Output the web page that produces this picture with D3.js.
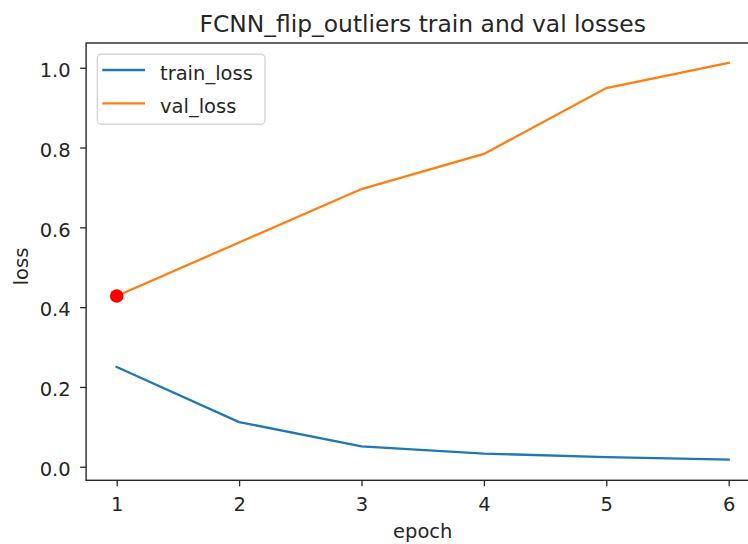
<!DOCTYPE html>
<html>
<head>
<meta charset="utf-8">
<script src="https://cdn.jsdelivr.net/npm/d3@7"></script>
<style>
  body { margin: 0; background: #fff; }
  svg text { font-family: "DejaVu Sans", sans-serif; fill: #262626; }
</style>
</head>
<body>
<svg id="chart"></svg>
<script>
var width = 748;
var height = 544;

// data
var epochs = [1, 2, 3, 4, 5, 6];
var trainLoss = [0.250, 0.112, 0.051, 0.033, 0.024, 0.018];
var valLoss = [0.428, 0.562, 0.696, 0.784, 0.949, 1.012];
var yTicks = [0.0, 0.2, 0.4, 0.6, 0.8, 1.0];
var seriesNames = ["train_loss", "val_loss"];
var colors = ["#1f77b4", "#ff7f0e"];

var plotLeft = 86.1, plotRight = 759.3, plotTop = 43, plotBottom = 480.3;
var fs = 19.5;

var svg = d3.select("#chart")
    .attr("width", width)
    .attr("height", height);

var x = d3.scaleLinear().domain([0.75, 6.25]).range([plotLeft, plotRight]);
var y = d3.scaleLinear().domain([-0.034, 1.062]).range([plotBottom, plotTop]);

// axes
var xAxis = svg.append("g")
    .attr("transform", "translate(0," + plotBottom + ")")
    .call(d3.axisBottom(x).tickValues(epochs).tickFormat(d3.format("d"))
        .tickSize(6).tickPadding(11).tickSizeOuter(0));
var yAxis = svg.append("g")
    .attr("transform", "translate(" + plotLeft + ",0)")
    .call(d3.axisLeft(y).tickValues(yTicks).tickFormat(d3.format(".1f"))
        .tickSize(6).tickPadding(9.4).tickSizeOuter(0));

[xAxis, yAxis].forEach(function (g) {
    g.select(".domain").remove();
    g.selectAll("line").attr("stroke", "#262626").attr("stroke-width", 1.3);
    g.selectAll("text").style("font-size", fs + "px").attr("fill", "#262626")
        .style("font-family", "DejaVu Sans");
});
yAxis.selectAll("text").attr("dy", "0.45em");

// spines
svg.append("rect")
    .attr("x", plotLeft).attr("y", plotTop)
    .attr("width", plotRight - plotLeft).attr("height", plotBottom - plotTop)
    .attr("fill", "none").attr("stroke", "#262626").attr("stroke-width", 1.4);

// lines
var line = d3.line()
    .x(function (d, i) { return x(epochs[i]); })
    .y(function (d) { return y(d); });

[trainLoss, valLoss].forEach(function (s, i) {
    svg.append("path")
        .datum(s)
        .attr("d", line)
        .attr("fill", "none")
        .attr("stroke", colors[i])
        .attr("stroke-width", 2.3)
        .attr("stroke-linecap", "square");
});

svg.append("circle")
    .attr("cx", x(epochs[0]))
    .attr("cy", y(valLoss[0]))
    .attr("r", 6.8)
    .attr("fill", "red");

// title and labels
svg.append("text")
    .attr("x", (plotLeft + plotRight) / 2).attr("y", 31.7)
    .attr("text-anchor", "middle")
    .style("font-size", "23.4px")
    .text("FCNN_flip_outliers train and val losses");

svg.append("text")
    .attr("x", (plotLeft + plotRight) / 2).attr("y", 538)
    .attr("text-anchor", "middle")
    .style("font-size", fs + "px")
    .text("epoch");

svg.append("text")
    .attr("transform", "translate(28,266.5) rotate(-90)")
    .attr("text-anchor", "middle")
    .style("font-size", fs + "px")
    .text("loss");

// legend
var legend = svg.append("g");
legend.append("rect")
    .attr("x", 97.3).attr("y", 54.3)
    .attr("width", 167.7).attr("height", 70)
    .attr("rx", 4)
    .attr("fill", "#fff").attr("fill-opacity", 0.8)
    .attr("stroke", "#d6d6d6").attr("stroke-width", 1.4);

seriesNames.forEach(function (name, i) {
    var ly = 70 + i * 33.3;
    legend.append("line")
        .attr("x1", 102.3).attr("x2", 145)
        .attr("y1", ly).attr("y2", ly)
        .attr("stroke", colors[i]).attr("stroke-width", 2.3);
    legend.append("text")
        .attr("x", 160).attr("y", ly + 10)
        .style("font-size", fs + "px")
        .text(name);
});
</script>
</body>
</html>
